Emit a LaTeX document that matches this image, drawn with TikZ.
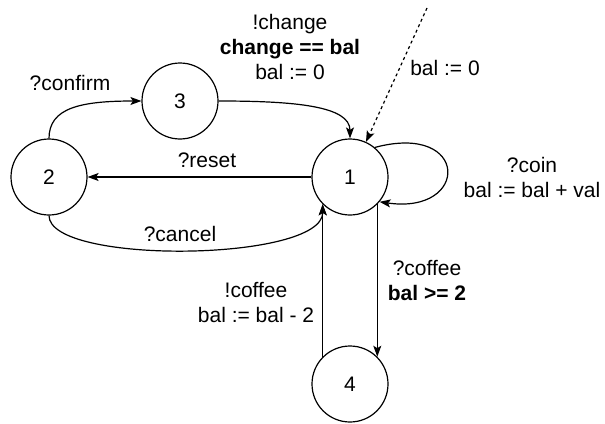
\documentclass[tikz,border=0pt]{standalone}
\usepackage{fontspec}
\setmainfont{Liberation Sans}
\usetikzlibrary{arrows.meta}
\begin{document}
\begin{tikzpicture}[x=1pt,y=-1pt,
  every node/.style={font=\fontsize{21}{25}\selectfont},
  state/.style={circle,draw,line width=1.2pt,minimum size=76pt,inner sep=0pt},
  trans/.style={line width=1.2pt,-{Stealth[length=11pt,width=8pt,inset=2.5pt]}},
  lbl/.style={align=center,inner sep=0pt}]
\useasboundingbox (0,0) rectangle (605,423);

% states
\node[state] (n1) at (350,177) {1};
\node[state] (n2) at (49,177) {2};
\node[state] (n3) at (180,101) {3};
\node[state] (n4) at (350,384) {4};

% initial transition
\coordinate (init) at (427,8);
\draw[trans,dash pattern=on 3pt off 3pt] (init) -- (n1);
\node[lbl] (linit) at (445,68) {bal := 0};

% transitions
\draw[trans] (n2.north) .. controls (49,108) and (80,101) .. (n3.west);
\node[lbl] (lconfirm) at (70,83) {?confirm};

\draw[trans] (n3.east) .. controls (295,101) and (350,106) .. (n1.north);
\node[lbl] (lchange) at (290,47) {!change\\\textbf{change == bal}\\bal := 0};

\draw[trans] (n1) -- (n2);
\node[lbl] (lreset) at (207,160) {?reset};

\draw[trans] (n2.south) .. controls (49,265) and (323,262) .. (n1.225);
\node[lbl] (lcancel) at (180,234) {?cancel};

\draw[trans] (n1.50) .. controls (470,122) and (470,215) .. (n1.-40);
\node[lbl] (lcoin) at (532,177) {?coin\\bal := bal + val};

\draw[trans] (n1.-45) -- (n4.45);
\node[lbl] (lcoffee) at (427,281) {?coffee\\\textbf{bal >= 2}};

\draw[trans] (n4.135) -- (n1.225);
\node[lbl] (lserve) at (256,303) {!coffee\\bal := bal - 2};
\end{tikzpicture}
\end{document}
